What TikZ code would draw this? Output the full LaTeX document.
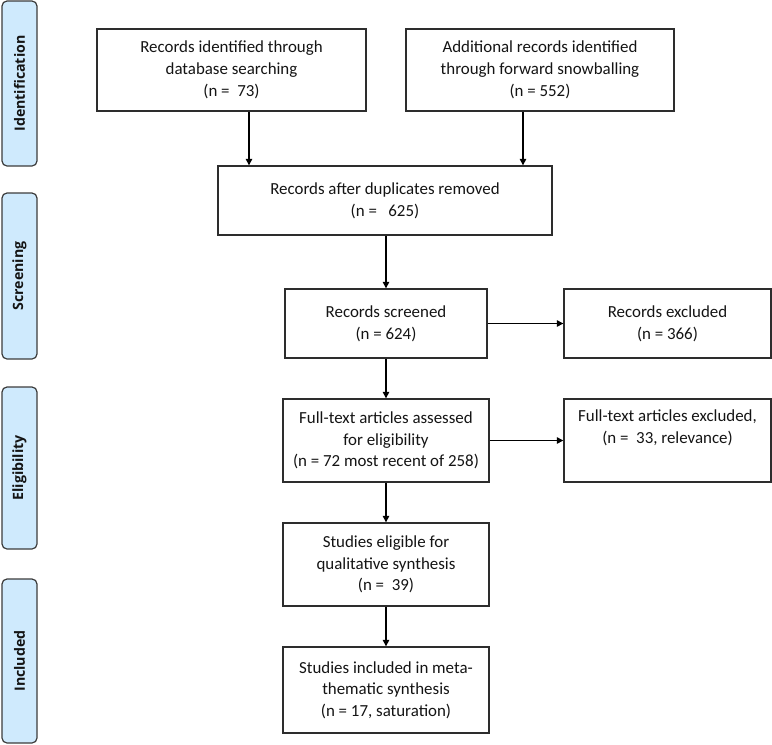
\documentclass[tikz,border=0pt]{standalone}
\usepackage{fontspec}
\setmainfont{Carlito}
\newfontfamily\tabfont{Open Sans}[UprightFont=* Bold]
\usetikzlibrary{arrows.meta,positioning,calc}
\definecolor{tabfill}{RGB}{207,234,253}
\definecolor{tabline}{RGB}{60,60,60}
\definecolor{boxline}{RGB}{45,45,45}
\definecolor{txt}{RGB}{20,20,20}
\begin{document}
\begin{tikzpicture}[x=1pt,y=-1pt,
  box/.style={draw=boxline,line width=1.4pt,fill=white,align=center,inner sep=0pt,
    text=txt,font=\fontsize{16.9}{21.7}\selectfont},
  tab/.style={draw=tabline,line width=1.2pt,fill=tabfill,rounded corners=5pt},
  tablabel/.style={rotate=90,text=txt,font=\tabfont\fontsize{14.2}{16}\selectfont},
  arr/.style={draw=black,line width=1.3pt,-{Triangle[length=6.5pt,width=6.5pt]}}]
\useasboundingbox (0,0) rectangle (772,745);
% phase tabs
\draw[tab] (2,1) rectangle (37,166);
\draw[tab] (2,193) rectangle (37,359);
\draw[tab] (2,387) rectangle (37,549);
\draw[tab] (2,579) rectangle (37,743);
\node[tablabel] (tid) at (19.5,83.5) {Identification};
\node[tablabel] (tsc) at (19.5,276) {Screening};
\node[tablabel] (tel) at (19.5,468) {Eligibility};
\node[tablabel] (tin) at (19.5,661) {Included};
% boxes
\node[box,minimum width=269pt,minimum height=82pt] (b1) at (231.5,70)
  {Records identified through\\database searching\\(n =\ \ 73)};
\node[box,minimum width=268pt,minimum height=82pt] (b2) at (540,70)
  {Additional records identified\\through forward snowballing\\(n = 552)};
\node[box,minimum width=334pt,minimum height=69pt] (b3) at (385,200.5)
  {Records after duplicates removed\\(n =\ \ \ 625)};
\node[box,minimum width=202pt,minimum height=69pt] (scr) at (386,323.5)
  {Records screened\\(n = 624)};
\node[box,minimum width=207pt,minimum height=69pt] (exc) at (667.5,323.5)
  {Records excluded\\(n = 366)};
\node[box,minimum width=206pt,minimum height=83pt] (ft) at (386,440.5)
  {Full-text articles assessed\\for eligibility\\(n = 72 most recent of 258)};
\node[box,minimum width=207pt,minimum height=83pt] (ftx) at (667.5,440.5)
  {Full-text articles excluded,\\(n =\ \ 33, relevance)\\\strut};
\node[box,minimum width=206pt,minimum height=83pt] (el) at (386,564.5)
  {Studies eligible for\\qualitative synthesis\\(n =\ \ 39)};
\node[box,minimum width=206pt,minimum height=86pt] (inc) at (386,690)
  {Studies included in meta-\\thematic synthesis\\(n = 17, saturation)};
% connectors
\coordinate (c1) at (249,0);
\coordinate (c2) at (523,0);
\coordinate (c3) at (386,0);
\draw[arr] (b1.south -| c1) -- (b3.north -| c1);
\draw[arr] (b2.south -| c2) -- (b3.north -| c2);
\draw[arr] (b3.south -| c3) -- (scr.north);
\draw[arr] (scr.east) -- (exc.west);
\draw[arr] (scr.south) -- (ft.north);
\draw[arr] (ft.east) -- (ftx.west);
\draw[arr] (ft.south) -- (el.north);
\draw[arr] (el.south) -- (inc.north);
\end{tikzpicture}
\end{document}
